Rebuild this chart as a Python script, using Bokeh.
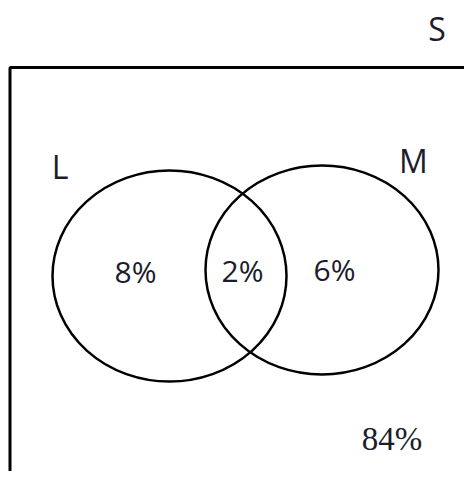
from bokeh.plotting import figure
from bokeh.models import Range1d, ColumnDataSource
from bokeh.core.properties import value
from bokeh.embed import file_html
from bokeh.resources import INLINE

# Data
set_names = ["L", "M"]
set_cx = [169, 321.5]
set_cy = [275.5, 269.5]
set_w = [234, 233]
set_h = [211, 209]

set_label_x = [59.5, 413]
set_label_y = [165.5, 160]

region_labels = ["8%", "2%", "6%"]
region_x = [135, 242, 334]
region_y = [270.5, 270, 269]

outside_label = ["84%"]
outside_x = [391.5]
outside_y = [438]

universe_label = ["S"]
universe_x = [436.5]
universe_y = [27.5]

frame_x = [9.5, 9.5, 490]
frame_y = [500, 67, 67]

p = figure(width=464, height=471, output_backend="svg", toolbar_location=None,
           x_range=Range1d(0, 464), y_range=Range1d(471, 0),
           min_border=0, outline_line_color=None)
p.axis.visible = False
p.grid.visible = False
p.background_fill_color = "white"
p.border_fill_color = "white"

p.line(frame_x, frame_y, line_color="black", line_width=3)

src = ColumnDataSource(dict(x=set_cx, y=set_cy, w=set_w, h=set_h))
p.ellipse(x="x", y="y", width="w", height="h", source=src,
          fill_color=None, line_color="black", line_width=2.5)

txt_color = "#1c1c2a"
p.text(x=set_label_x, y=set_label_y, text=set_names, text_font=value("Open Sans"),
       text_font_size="32px", text_align="center", text_baseline="middle", text_color=txt_color)
p.text(x=universe_x, y=universe_y, text=universe_label, text_font=value("Open Sans"),
       text_font_size="32px", text_align="center", text_baseline="middle", text_color=txt_color)
p.text(x=region_x, y=region_y, text=region_labels, text_font=value("Open Sans"),
       text_font_size="30px", text_align="center", text_baseline="middle", text_color=txt_color)
p.text(x=outside_x, y=outside_y, text=outside_label, text_font=value("Liberation Serif"),
       text_font_size="33px", text_align="center", text_baseline="middle", text_color=txt_color)

open("out.html", "w").write(file_html(p, INLINE))
